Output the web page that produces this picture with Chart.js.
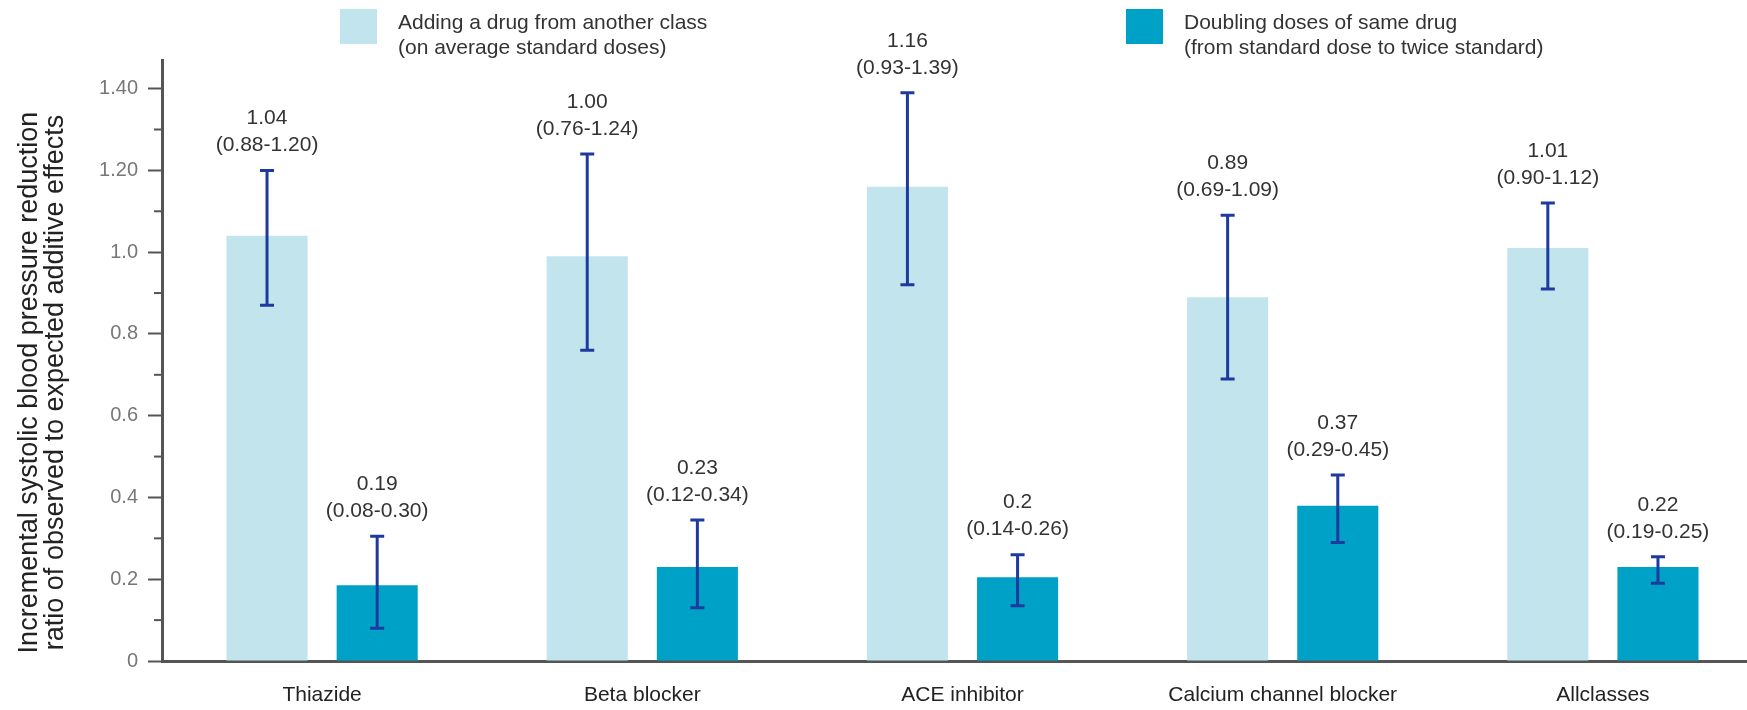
<!DOCTYPE html>
<html>
<head>
<meta charset="utf-8">
<script src="https://cdn.jsdelivr.net/npm/chart.js@4"></script>
<style>
    html, body { margin: 0; padding: 0; background: #ffffff; overflow: hidden; }
    #wrap { width: 1763px; height: 710px; }
</style>
</head>
<body>
<div id="wrap"><canvas id="ratioChart"></canvas></div>
<script>
// Categories and values
var categories = ['Thiazide', 'Beta blocker', 'ACE inhibitor', 'Calcium channel blocker', 'Allclasses'];

var addClassValues = [1.04, 0.99, 1.16, 0.89, 1.01];
var addClassLow = [0.87, 0.76, 0.92, 0.69, 0.91];
var addClassHigh = [1.20, 1.24, 1.39, 1.09, 1.12];
var addClassText = ['1.04', '1.00', '1.16', '0.89', '1.01'];
var addClassRange = ['(0.88-1.20)', '(0.76-1.24)', '(0.93-1.39)', '(0.69-1.09)', '(0.90-1.12)'];

var doubleValues = [0.185, 0.23, 0.205, 0.38, 0.23];
var doubleLow = [0.08, 0.13, 0.135, 0.29, 0.19];
var doubleHigh = [0.305, 0.345, 0.26, 0.455, 0.255];
var doubleText = ['0.19', '0.23', '0.2', '0.37', '0.22'];
var doubleRange = ['(0.08-0.30)', '(0.12-0.34)', '(0.14-0.26)', '(0.29-0.45)', '(0.19-0.25)'];

var yTickLabels = ['0', '0.2', '0.4', '0.6', '0.8', '1.0', '1.20', '1.40'];
var yTitleLines = ['Incremental systolic blood pressure reduction', 'ratio of observed to expected additive effects'];

var legendLines = [
    ['Adding a drug from another class', '(on average standard doses)'],
    ['Doubling doses of same drug', '(from standard dose to twice standard)']
];

var FONT = 'Arial, "Liberation Sans", Helvetica, sans-serif';
var lightBlue = '#c2e4ec';
var darkBlue = '#00a1c7';
var whiskerColor = '#1f3a9e';
var axisColor = '#555555';

// Error bars + two-line value labels over each bar
var errorBarPlugin = {
    id: 'errorBars',
    afterDatasetsDraw: function (chart) {
        var ctx = chart.ctx;
        var y = chart.scales.y;
        var lows = [addClassLow, doubleLow];
        var highs = [addClassHigh, doubleHigh];
        var texts = [addClassText, doubleText];
        var ranges = [addClassRange, doubleRange];

        ctx.save();
        for (var i = 0; i < 2; i++) {
            var meta = chart.getDatasetMeta(i);
            meta.data.forEach(function (bar, j) {
                var x = bar.x;
                var top = y.getPixelForValue(highs[i][j]);
                var bot = y.getPixelForValue(lows[i][j]);

                ctx.strokeStyle = whiskerColor;
                ctx.lineWidth = 3;
                ctx.beginPath();
                ctx.moveTo(x, top);
                ctx.lineTo(x, bot);
                ctx.moveTo(x - 7, top);
                ctx.lineTo(x + 7, top);
                ctx.moveTo(x - 7, bot);
                ctx.lineTo(x + 7, bot);
                ctx.stroke();

                ctx.fillStyle = '#333333';
                ctx.font = '21px ' + FONT;
                ctx.textAlign = 'center';
                ctx.textBaseline = 'middle';
                ctx.fillText(ranges[i][j], x, top - 25);
                ctx.fillText(texts[i][j], x, top - 52);
            });
        }
        ctx.restore();
    }
};

// Minor ticks halfway between the labelled ones
var minorTickPlugin = {
    id: 'minorTicks',
    afterDraw: function (chart) {
        var ctx = chart.ctx;
        var y = chart.scales.y;
        var left = chart.chartArea.left;
        ctx.save();
        ctx.strokeStyle = axisColor;
        ctx.lineWidth = 2;
        for (var k = 0; k < y.ticks.length - 1; k++) {
            var mid = (y.ticks[k].value + y.ticks[k + 1].value) / 2;
            var py = y.getPixelForValue(mid);
            ctx.beginPath();
            ctx.moveTo(left - 8, py);
            ctx.lineTo(left, py);
            ctx.stroke();
        }
        ctx.restore();
    }
};

// Rotated two-line y title, sitting a little below the plot centre like the original
var yTitlePlugin = {
    id: 'yTitle',
    afterDraw: function (chart) {
        var ctx = chart.ctx;
        var area = chart.chartArea;
        ctx.save();
        ctx.translate(30, (area.top + area.bottom) / 2 + 22);
        ctx.rotate(-Math.PI / 2);
        ctx.fillStyle = '#222222';
        ctx.font = '27px ' + FONT;
        ctx.textAlign = 'center';
        ctx.textBaseline = 'middle';
        ctx.fillText(yTitleLines[0], 0, 0);
        ctx.fillText(yTitleLines[1], 0, 26);
        ctx.restore();
    }
};

// Legend with two-line labels at the top
var topLegendPlugin = {
    id: 'topLegend',
    afterDraw: function (chart) {
        var ctx = chart.ctx;
        var spots = [340, 1126];
        ctx.save();
        chart.data.datasets.forEach(function (ds, i) {
            var x0 = spots[i];
            ctx.fillStyle = ds.backgroundColor;
            ctx.fillRect(x0, 9, 37, 35);
            ctx.fillStyle = '#333333';
            ctx.font = '21px ' + FONT;
            ctx.textAlign = 'left';
            ctx.textBaseline = 'middle';
            ctx.fillText(legendLines[i][0], x0 + 58, 23);
            ctx.fillText(legendLines[i][1], x0 + 58, 48);
        });
        ctx.restore();
    }
};

var ctx = document.getElementById('ratioChart').getContext('2d');
var chart = new Chart(ctx, {
    type: 'bar',
    data: {
        labels: categories,
        datasets: [{
            label: legendLines[0][0],
            data: addClassValues,
            backgroundColor: lightBlue,
            categoryPercentage: 0.688,
            barPercentage: 0.736
        }, {
            label: legendLines[1][0],
            data: doubleValues,
            backgroundColor: darkBlue,
            categoryPercentage: 0.688,
            barPercentage: 0.736
        }]
    },
    options: {
        responsive: true,
        maintainAspectRatio: false,
        animation: false,
        layout: {
            padding: { top: 60, right: 0, left: 0, bottom: 0 }
        },
        plugins: {
            legend: { display: false },
            tooltip: { enabled: false }
        },
        scales: {
            x: {
                grid: { display: false, drawTicks: false },
                border: { display: true, color: axisColor, width: 3 },
                ticks: {
                    color: '#222222',
                    padding: 22,
                    font: { family: FONT, size: 21 },
                    maxRotation: 0,
                    autoSkip: false
                },
                afterFit: function (scale) { scale.height = 49; }
            },
            y: {
                min: 0,
                max: 1.47,
                grid: {
                    drawOnChartArea: false,
                    drawTicks: true,
                    tickLength: 14,
                    tickWidth: 2,
                    tickColor: axisColor
                },
                border: { display: true, color: axisColor, width: 3 },
                ticks: {
                    stepSize: 0.2,
                    includeBounds: false,
                    padding: 10,
                    color: '#777777',
                    font: { family: FONT, size: 20 },
                    callback: function (value, index) { return yTickLabels[index]; }
                },
                title: { display: false },
                afterFit: function (scale) { scale.width = 162; }
            }
        }
    },
    plugins: [errorBarPlugin, minorTickPlugin, yTitlePlugin, topLegendPlugin]
});
</script>
</body>
</html>
